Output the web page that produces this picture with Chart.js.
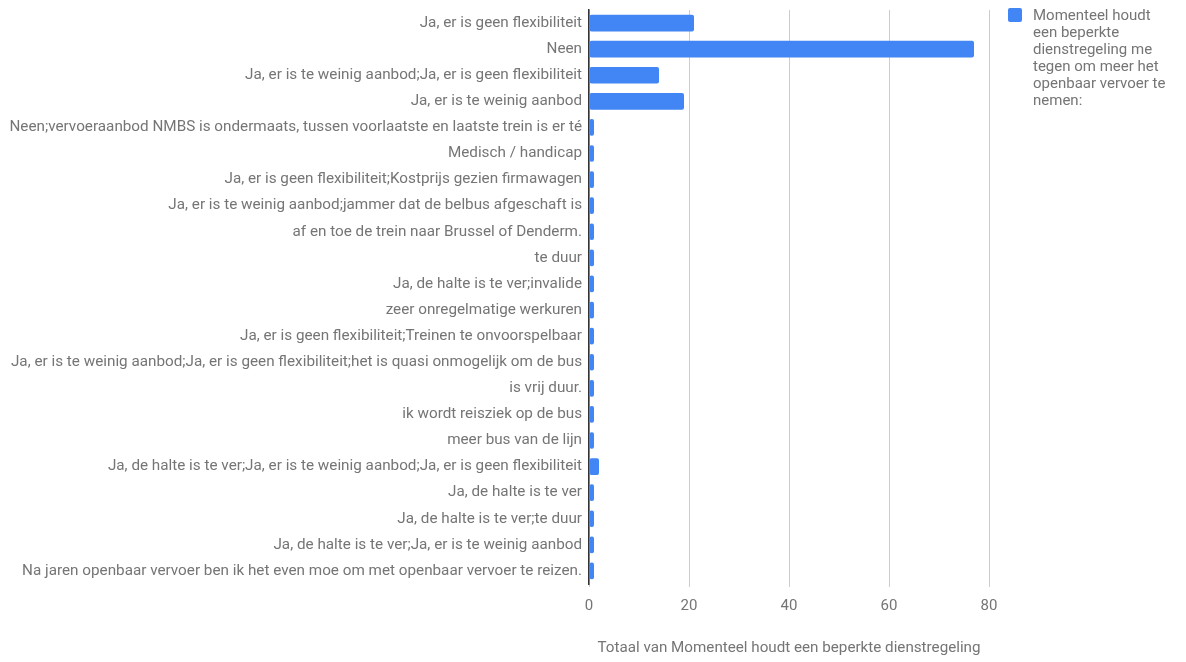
<!DOCTYPE html>
<html>
<head>
<meta charset="utf-8">
<script src="https://cdn.jsdelivr.net/npm/chart.js@4/dist/chart.umd.min.js"></script>
<style>
  html, body { margin: 0; padding: 0; background: #fff; }
  #wrap { width: 1186px; height: 662px; position: relative; }
</style>
</head>
<body>
<div id="wrap"><canvas id="chart"></canvas></div>
<script>
const categories = [
  "Ja, er is geen flexibiliteit",
  "Neen",
  "Ja, er is te weinig aanbod;Ja, er is geen flexibiliteit",
  "Ja, er is te weinig aanbod",
  "Neen;vervoeraanbod NMBS is ondermaats, tussen voorlaatste en laatste trein is er té",
  "Medisch / handicap",
  "Ja, er is geen flexibiliteit;Kostprijs gezien firmawagen",
  "Ja, er is te weinig aanbod;jammer dat de belbus afgeschaft is",
  "af en toe de trein naar Brussel of Denderm.",
  "te duur",
  "Ja, de halte is te ver;invalide",
  "zeer onregelmatige werkuren",
  "Ja, er is geen flexibiliteit;Treinen te onvoorspelbaar",
  "Ja, er is te weinig aanbod;Ja, er is geen flexibiliteit;het is quasi onmogelijk om de bus",
  "is vrij duur.",
  "ik wordt reisziek op de bus",
  "meer bus van de lijn",
  "Ja, de halte is te ver;Ja, er is te weinig aanbod;Ja, er is geen flexibiliteit",
  "Ja, de halte is te ver",
  "Ja, de halte is te ver;te duur",
  "Ja, de halte is te ver;Ja, er is te weinig aanbod",
  "Na jaren openbaar vervoer ben ik het even moe om met openbaar vervoer te reizen."
];
const counts = [21, 77, 14, 19, 1, 1, 1, 1, 1, 1, 1, 1, 1, 1, 1, 1, 1, 2, 1, 1, 1, 1];
const legendLines = [
  "Momenteel houdt",
  "een beperkte",
  "dienstregeling me",
  "tegen om meer het",
  "openbaar vervoer te",
  "nemen:"
];
const seriesLabel = legendLines.join(" ");
const axisTitle = "Totaal van Momenteel houdt een beperkte dienstregeling";
const xTicks = [0, 20, 40, 60, 80];

const barColor = "#4285f4";
const textColor = "#757575";
const fontFamily = "Roboto, 'Noto Sans', Arial, sans-serif";

const sideLegend = {
  id: "sideLegend",
  afterDraw(chart) {
    const ctx = chart.ctx;
    ctx.save();
    ctx.fillStyle = barColor;
    ctx.beginPath();
    ctx.roundRect(1008, 8, 14, 14, 2);
    ctx.fill();
    ctx.fillStyle = textColor;
    ctx.font = "15px " + fontFamily;
    ctx.textBaseline = "middle";
    ctx.textAlign = "left";
    legendLines.forEach((line, i) => {
      ctx.fillText(line, 1033, 16 + i * 17);
    });
    ctx.restore();
  }
};

new Chart(document.getElementById("chart"), {
  type: "bar",
  data: {
    labels: categories,
    datasets: [{
      label: seriesLabel,
      data: counts,
      backgroundColor: barColor,
      borderRadius: 2,
      borderSkipped: false,
      barPercentage: 0.64,
      categoryPercentage: 1
    }]
  },
  options: {
    indexAxis: "y",
    responsive: true,
    maintainAspectRatio: false,
    animation: false,
    layout: { padding: { left: 0, right: 197, top: 10, bottom: 0 } },
    plugins: {
      legend: { display: false },
      tooltip: { enabled: false }
    },
    scales: {
      x: {
        min: 0,
        max: 80,
        afterBuildTicks: s => { s.ticks = xTicks.map(v => ({ value: v })); },
        afterFit: s => { s.height = 78; },
        grid: { color: "#cccccc", lineWidth: 1, drawTicks: true, tickLength: 3 },
        border: { display: false },
        ticks: {
          color: textColor,
          font: { family: fontFamily, size: 15 },
          padding: 10
        },
        title: {
          display: true,
          text: axisTitle,
          color: textColor,
          font: { family: fontFamily, size: 15.2 },
          padding: { top: 0, bottom: 5 }
        }
      },
      y: {
        afterFit: s => { s.width = 589; s.paddingTop = 0; s.paddingBottom = 0; },
        grid: { display: false, drawTicks: false },
        border: { display: true, color: "#333333", width: 1.5 },
        ticks: {
          color: textColor,
          font: { family: fontFamily, size: 15.25 },
          padding: 7,
          autoSkip: false
        }
      }
    }
  },
  plugins: [sideLegend]
});
</script>
</body>
</html>
